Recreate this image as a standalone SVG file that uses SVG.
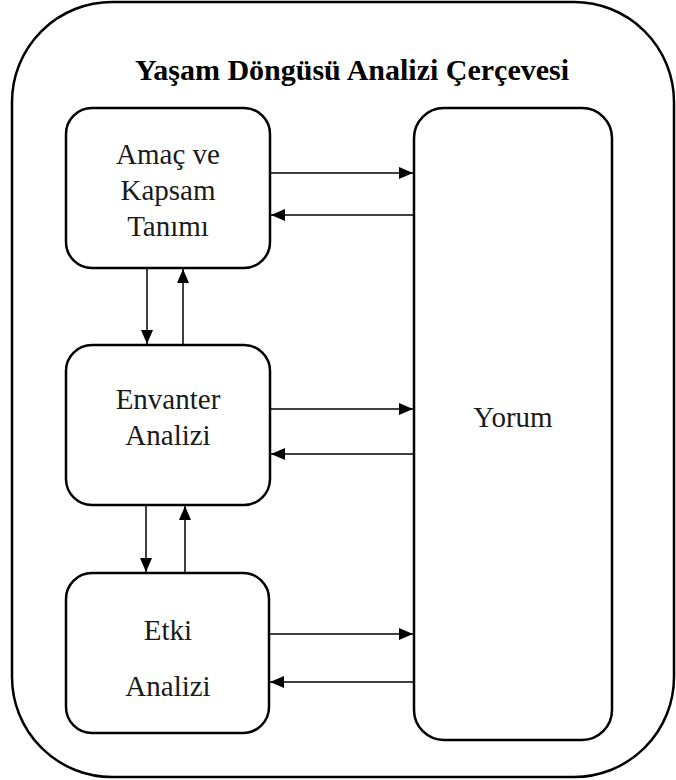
<svg xmlns="http://www.w3.org/2000/svg" width="676" height="780" viewBox="0 0 676 780">
<style>
.box{fill:#fff;stroke:#000;stroke-width:2.5}
.frame{fill:#fff;stroke:#000;stroke-width:2.5}
.t{font-family:'Liberation Serif','Times New Roman',serif;font-size:29px;fill:#1a1a1a;text-anchor:middle}
.title{font-family:'Liberation Serif','Times New Roman',serif;font-size:30px;font-weight:bold;fill:#000;text-anchor:middle}
.c{stroke:#000;stroke-width:1.5;fill:none;marker-end:url(#ah)}
</style>
<defs>
<marker id="ah" viewBox="0 0 14 12" refX="14" refY="6" markerWidth="14" markerHeight="12" markerUnits="userSpaceOnUse" orient="auto">
<path d="M0,0 L14,6 L0,12 Z" fill="#000"/>
</marker>
</defs>
<rect width="676" height="780" fill="#fff"/>
<g id="frame">
<rect class="frame" x="12" y="2" width="662" height="775" rx="100" ry="100"/>
<text class="title" x="352" y="80">Yaşam Döngüsü Analizi Çerçevesi</text>
</g>
<g id="amac">
<rect class="box" x="66" y="108" width="204" height="160" rx="26"/>
<text class="t" x="168" y="164">Amaç ve</text>
<text class="t" x="168" y="200">Kapsam</text>
<text class="t" x="168" y="236">Tanımı</text>
</g>
<g id="envanter">
<rect class="box" x="66" y="345" width="204" height="160" rx="26"/>
<text class="t" x="168" y="409">Envanter</text>
<text class="t" x="168" y="445">Analizi</text>
</g>
<g id="etki">
<rect class="box" x="66" y="573" width="203" height="160" rx="26"/>
<text class="t" x="168" y="640">Etki</text>
<text class="t" x="168" y="696">Analizi</text>
</g>
<g id="yorum">
<rect class="box" x="414" y="108" width="198" height="632" rx="30"/>
<text class="t" x="513" y="427">Yorum</text>
</g>
<g id="connectors">
<line class="c" x1="271" y1="173" x2="413" y2="173"/>
<line class="c" x1="413" y1="215" x2="271" y2="215"/>
<line class="c" x1="147" y1="268" x2="147" y2="344"/>
<line class="c" x1="183" y1="345" x2="183" y2="269"/>
<line class="c" x1="271" y1="409" x2="413" y2="409"/>
<line class="c" x1="413" y1="454" x2="271" y2="454"/>
<line class="c" x1="146" y1="505" x2="146" y2="572"/>
<line class="c" x1="185" y1="573" x2="185" y2="506"/>
<line class="c" x1="270" y1="634" x2="413" y2="634"/>
<line class="c" x1="413" y1="682" x2="270" y2="682"/>
</g>
</svg>
